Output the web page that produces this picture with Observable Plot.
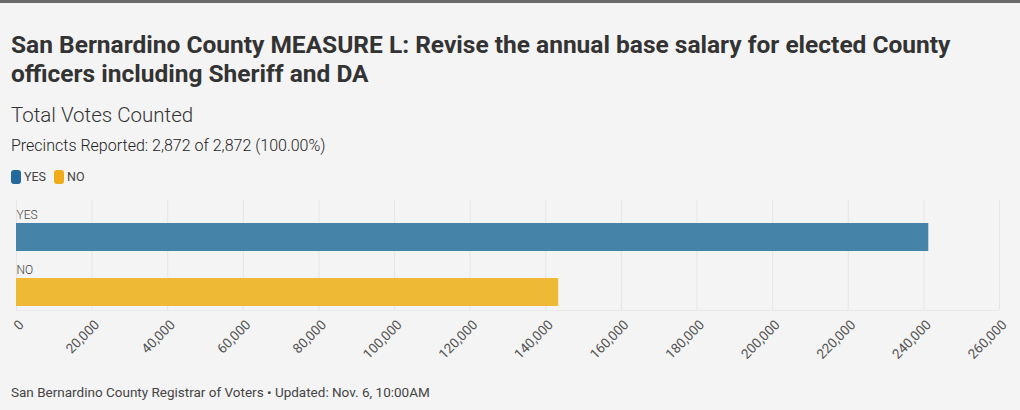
<!DOCTYPE html>
<html>
<head>
<meta charset="utf-8">
<script src="https://cdn.jsdelivr.net/npm/d3@7"></script>
<script src="https://cdn.jsdelivr.net/npm/@observablehq/plot@0.6"></script>
<style>
  html, body { margin: 0; padding: 0; background: #f4f4f4; }
  body { width: 1020px; height: 410px; overflow: hidden; position: relative; font-family: Roboto, "Open Sans", sans-serif; color: #333; }
  .topbar { position: absolute; left: 0; top: 0; width: 1020px; height: 3px; background: #6a6a6a; }
  .title { position: absolute; left: 11px; top: 30px; width: 960px; font-size: 24.5px; line-height: 29px; font-weight: 700; color: #333; letter-spacing: 0px; }
  .sub { position: absolute; left: 11px; top: 103px; font-size: 20.5px; font-weight: 300; color: #333; }
  .prec { position: absolute; left: 11px; top: 136px; font-size: 16px; font-weight: 300; color: #222; }
  .legend { position: absolute; left: 11px; top: 169px; font-size: 12.5px; color: #444; display: flex; align-items: center; }
  .legend .sw { display: inline-block; width: 10px; height: 14px; border-radius: 3px; margin-right: 3px; }
  .legend .item { display: flex; align-items: center; margin-right: 8px; }
  #chart { position: absolute; left: 0; top: 195px; }
  #chart svg { overflow: visible; }
  .foot { position: absolute; left: 11px; top: 384px; font-size: 13.5px; color: #444; }
</style>
</head>
<body>
<div class="topbar"></div>
<div class="title">San Bernardino County MEASURE L: Revise the annual base salary for elected County officers including Sheriff and DA</div>
<div class="sub">Total Votes Counted</div>
<div class="prec">Precincts Reported: 2,872 of 2,872 (100.00%)</div>
<div class="legend" id="legend"></div>
<div id="chart"></div>
<div class="foot">San Bernardino County Registrar of Voters • Updated: Nov. 6, 10:00AM</div>
<script>
const categories = ["YES", "NO"];
const votes = [241300, 143400];
const barColors = ["#4683a8", "#eeb935"];
const legendColors = ["#24699b", "#f0ab18"];
const xTicks = [0, 20000, 40000, 60000, 80000, 100000, 120000, 140000, 160000, 180000, 200000, 220000, 240000, 260000];

const data = categories.map((c, i) => ({category: c, votes: votes[i]}));

const legend = document.getElementById("legend");
categories.forEach((c, i) => {
  const it = document.createElement("span");
  it.className = "item";
  it.innerHTML = `<span class="sw" style="background:${legendColors[i]}"></span>${c}`;
  legend.appendChild(it);
});

const fmt = d3.format(",");
const plot = Plot.plot({
  width: 1020,
  height: 180,
  marginTop: 5,
  marginBottom: 65,
  marginLeft: 16,
  marginRight: 21,
  style: {background: "transparent", fontFamily: "Roboto, sans-serif", fontSize: "12px", color: "#444"},
  x: {domain: [0, 260000], label: null},
  y: {domain: categories, padding: 0, axis: null},
  color: {domain: categories, range: barColors},
  marks: [
    Plot.gridX(xTicks, {stroke: "#e6e6e6", strokeOpacity: 1}),
    Plot.ruleY([0], {y: () => "NO", dy: 27.5, stroke: "#e9e9e9"}),
    Plot.barX(data, {x: "votes", y: "category", fill: "category", insetTop: 23, insetBottom: 4}),
    Plot.text(data, {x: 0, y: "category", text: "category", textAnchor: "start", dy: -13, fill: "#444", fontSize: 12, fontWeight: 300}),
    Plot.axisX(xTicks, {tickFormat: fmt, tickRotate: -45, tickSize: 0, tickPadding: 9, dx: 5, dy: 3, fontSize: 13.5, fill: "#555", label: null})
  ]
});
document.getElementById("chart").appendChild(plot);
</script>
</body>
</html>
